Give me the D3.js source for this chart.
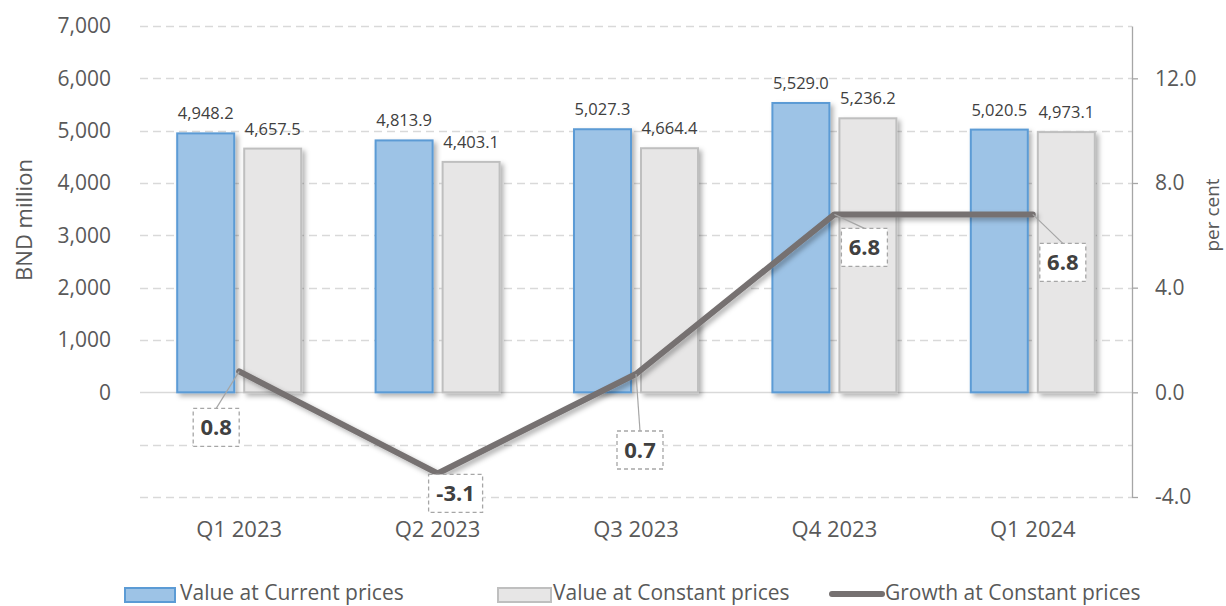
<!DOCTYPE html>
<html>
<head>
<meta charset="utf-8">
<script src="https://cdn.jsdelivr.net/npm/d3@7"></script>
<style>
  body { margin: 0; background: #fff; }
  svg { display: block; font-family: "Open Sans", sans-serif; }
</style>
</head>
<body>
<svg width="1226" height="606"></svg>
<script>
const categories = ["Q1 2023", "Q2 2023", "Q3 2023", "Q4 2023", "Q1 2024"]
const currentPrices = [4948.2, 4813.9, 5027.3, 5529.0, 5020.5]
const constantPrices = [4657.5, 4403.1, 4664.4, 5236.2, 4973.1]
const growth = [0.8, -3.1, 0.7, 6.8, 6.8]
const leftTicks = [0, 1000, 2000, 3000, 4000, 5000, 6000, 7000]
const gridTicks = [-2000, -1000, 0, 1000, 2000, 3000, 4000, 5000, 6000, 7000]
const rightTicks = [-4, 0, 4, 8, 12]
const legendLabels = ["Value at Current prices", "Value at Constant prices", "Growth at Constant prices"]

// where the growth callouts sit relative to their point (px)
const calloutShift = [[-23, 56], [18, 20], [4, 76], [30, 33], [30, 48]]

// plain hyphen for negatives, like the original
const locale = d3.formatLocale({decimal: ".", thousands: ",", grouping: [3], currency: ["", ""], minus: "-"})
const fmtOne = locale.format(".1f")
const fmtThousands = locale.format(",")
const fmtBar = locale.format(",.1f")

const svg = d3.select("svg")
const plot = {left: 140, right: 1132, top: 26, bottom: 497}
const textColor = "#595959"

const defs = svg.append("defs")
const shadow = defs.append("filter").attr("id", "shadow")
  .attr("x", "-20%").attr("y", "-20%").attr("width", "150%").attr("height", "150%")
shadow.append("feDropShadow")
  .attr("dx", 3).attr("dy", 3).attr("stdDeviation", 2.5)
  .attr("flood-color", "#000").attr("flood-opacity", 0.3)

const x = d3.scaleBand()
  .domain(categories)
  .range([plot.left, plot.right])
  .paddingInner(0.375)
  .paddingOuter(0.1875)

const xInner = d3.scaleBand()
  .domain([0, 1])
  .range([0, x.bandwidth()])
  .paddingInner(10 / 67)

const yLeft = d3.scaleLinear().domain([-2000, 7000]).range([plot.bottom, plot.top])
const yRight = d3.scaleLinear().domain([-4, 14]).range([plot.bottom, plot.top])

// gridlines
svg.append("g").attr("class", "grid")
  .selectAll("line")
  .data(gridTicks)
  .enter().append("line")
  .attr("x1", plot.left)
  .attr("x2", plot.right)
  .attr("y1", d => Math.round(yLeft(d)) + 0.5)
  .attr("y2", d => Math.round(yLeft(d)) + 0.5)
  .attr("stroke", "#d9d9d9")
  .attr("stroke-width", 1.3)
  .attr("stroke-dasharray", d => d === 0 ? null : "8,5")

// left axis labels (no line)
const leftAxis = svg.append("g")
  .attr("transform", "translate(" + plot.left + ",0)")
  .call(d3.axisLeft(yLeft).tickValues(leftTicks).tickSize(0).tickPadding(29).tickFormat(fmtThousands))
leftAxis.select(".domain").remove()
leftAxis.selectAll("text")
  .attr("font-size", 21)
  .attr("fill", textColor)
  .attr("font-family", "Open Sans, sans-serif")

// right axis
const rightAxis = svg.append("g")
  .attr("transform", "translate(" + plot.right + ",0)")
  .call(d3.axisRight(yRight).tickValues(rightTicks).tickSize(6).tickSizeOuter(0).tickPadding(17).tickFormat(fmtOne))
rightAxis.select(".domain").attr("stroke", "#a6a6a6").attr("stroke-width", 1.3)
rightAxis.selectAll(".tick line").attr("stroke", "#a6a6a6").attr("stroke-width", 1.3)
rightAxis.selectAll("text")
  .attr("font-size", 21)
  .attr("fill", textColor)
  .attr("font-family", "Open Sans, sans-serif")

// category labels
svg.append("g")
  .selectAll("text")
  .data(categories)
  .enter().append("text")
  .attr("x", d => x(d) + x.bandwidth() / 2)
  .attr("y", 537)
  .attr("text-anchor", "middle")
  .attr("font-size", 22)
  .attr("fill", textColor)
  .text(d => d)

// axis titles
svg.append("text")
  .attr("transform", "translate(32,220) rotate(-90)")
  .attr("text-anchor", "middle")
  .attr("font-size", 22)
  .attr("fill", textColor)
  .text("BND million")

svg.append("text")
  .attr("transform", "translate(1219,215) rotate(-90)")
  .attr("text-anchor", "middle")
  .attr("font-size", 19)
  .attr("fill", textColor)
  .text("per cent")

// bars
const series = [
  {values: currentPrices, fill: "#9dc3e6", stroke: "#5b9bd5"},
  {values: constantPrices, fill: "#e7e6e6", stroke: "#bfbfbf"}
]

series.forEach((s, i) => {
  const g = svg.append("g").attr("class", "bars-" + i)
  g.selectAll("rect")
    .data(s.values)
    .enter().append("rect")
    .attr("x", (d, j) => x(categories[j]) + xInner(i))
    .attr("y", d => yLeft(d))
    .attr("width", xInner.bandwidth())
    .attr("height", d => yLeft(0) - yLeft(d))
    .attr("fill", s.fill)
    .attr("stroke", s.stroke)
    .attr("stroke-width", 2)
    .attr("filter", "url(#shadow)")

  g.selectAll("text")
    .data(s.values)
    .enter().append("text")
    .attr("x", (d, j) => x(categories[j]) + xInner(i) + xInner.bandwidth() / 2)
    .attr("y", d => yLeft(d) - 14)
    .attr("text-anchor", "middle")
    .attr("font-size", 16.5)
    .attr("fill", "#404040")
    .text(fmtBar)
})

// growth line
const line = d3.line()
  .x((d, i) => x(categories[i]) + x.bandwidth() / 2)
  .y(d => yRight(d))

svg.append("path")
  .datum(growth)
  .attr("d", line)
  .attr("fill", "none")
  .attr("stroke", "#767171")
  .attr("stroke-width", 6)
  .attr("stroke-linejoin", "round")
  .attr("stroke-linecap", "round")
  .attr("filter", "url(#shadow)")

// callouts
const callouts = svg.append("g").attr("class", "callouts")
growth.forEach((v, i) => {
  const px = x(categories[i]) + x.bandwidth() / 2
  const py = yRight(v)
  const cx = px + calloutShift[i][0]
  const cy = py + calloutShift[i][1]
  const label = fmtOne(v)
  const w = label.length > 3 ? 54 : 46
  const h = 38

  const topX = cx, topY = cy - h / 2
  if (Math.hypot(topX - px, topY - py) > 25) {
    callouts.append("line")
      .attr("x1", px).attr("y1", py)
      .attr("x2", topX).attr("y2", topY)
      .attr("stroke", "#a6a6a6")
      .attr("stroke-width", 1.2)
  }

  callouts.append("rect")
    .attr("x", cx - w / 2)
    .attr("y", cy - h / 2)
    .attr("width", w)
    .attr("height", h)
    .attr("fill", "#fff")
    .attr("stroke", "#a6a6a6")
    .attr("stroke-width", 1.3)
    .attr("stroke-dasharray", "4,3")

  callouts.append("text")
    .attr("x", cx)
    .attr("y", cy + 8)
    .attr("text-anchor", "middle")
    .attr("font-size", 22)
    .attr("font-weight", "bold")
    .attr("fill", "#404040")
    .text(label)
})

// legend
const legend = svg.append("g").attr("class", "legend")
const legendX = [124, 497, 829]

legend.append("rect")
  .attr("x", legendX[0] + 1).attr("y", 588).attr("width", 50).attr("height", 14)
  .attr("fill", "#9dc3e6").attr("stroke", "#5b9bd5").attr("stroke-width", 2)
legend.append("rect")
  .attr("x", legendX[1] + 1).attr("y", 588).attr("width", 53).attr("height", 14)
  .attr("fill", "#e7e6e6").attr("stroke", "#bfbfbf").attr("stroke-width", 2)
legend.append("line")
  .attr("x1", legendX[2] + 3).attr("x2", legendX[2] + 53)
  .attr("y1", 594).attr("y2", 594)
  .attr("stroke", "#767171").attr("stroke-width", 6).attr("stroke-linecap", "round")

legend.selectAll("text")
  .data(legendLabels)
  .enter().append("text")
  .attr("x", (d, i) => legendX[i] + 56)
  .attr("y", 600)
  .attr("font-size", 21)
  .attr("fill", textColor)
  .text(d => d)
</script>
</body>
</html>
